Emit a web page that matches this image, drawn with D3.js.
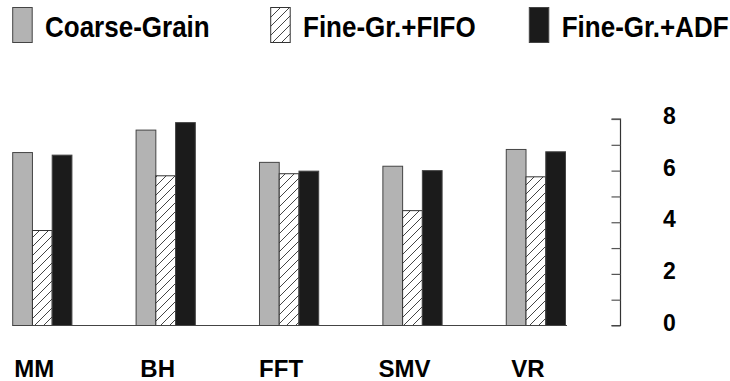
<!DOCTYPE html>
<html>
<head>
<meta charset="utf-8">
<script src="https://cdn.jsdelivr.net/npm/d3@7"></script>
<style>
  html, body { margin: 0; padding: 0; background: #fff; }
  svg { display: block; }
  text { font-family: "Liberation Sans", Arial, Helvetica, sans-serif; font-weight: bold; fill: #000; }
</style>
</head>
<body>
<svg id="chart" width="730" height="381"></svg>
<script>
const categories = ["MM", "BH", "FFT", "SMV", "VR"];
const seriesNames = ["Coarse-Grain", "Fine-Gr.+FIFO", "Fine-Gr.+ADF"];
const coarseGrain = [6.70, 7.57, 6.32, 6.17, 6.82];
const fineFifo    = [3.68, 5.80, 5.88, 4.45, 5.76];
const fineAdf     = [6.60, 7.86, 5.98, 6.00, 6.73];
const yTicks = [0, 2, 4, 6, 8];
const yMinorTicks = [0, 1, 2, 3, 4, 5, 6, 7, 8];

const seriesValues = [coarseGrain, fineFifo, fineAdf];
const fills = ["#b3b3b3", "url(#hatch)", "#1b1b1b"];
const strokes = ["#444", "#333", "#444"];

const svg = d3.select("#chart");

// hatch pattern
const defs = svg.append("defs");
const pat = defs.append("pattern")
  .attr("id", "hatch")
  .attr("patternUnits", "userSpaceOnUse")
  .attr("width", 9).attr("height", 9);
pat.append("rect").attr("width", 9).attr("height", 9).attr("fill", "#fff");
pat.append("path")
  .attr("d", "M-2,2 L2,-2 M0,9 L9,0 M7,11 L11,7")
  .attr("stroke", "#444").attr("stroke-width", 1);

const x = d3.scaleBand().domain(categories).range([12.7, 565.5]).paddingInner(0.52).paddingOuter(0);
const xs = d3.scaleBand().domain(d3.range(seriesNames.length)).range([0, x.bandwidth()]);
const y = d3.scaleLinear().domain([0, 8]).range([325.5, 119]);

// bars
categories.forEach((c, ci) => {
  seriesValues.forEach((vals, si) => {
    svg.append("rect")
      .attr("x", x(c) + xs(si))
      .attr("y", y(vals[ci]))
      .attr("width", xs.bandwidth())
      .attr("height", y(0) - y(vals[ci]))
      .attr("fill", fills[si])
      .attr("stroke", strokes[si])
      .attr("stroke-width", 1);
  });
});

// baseline
svg.append("line")
  .attr("x1", x.range()[0]).attr("x2", x.range()[1] + 1.5)
  .attr("y1", y(0)).attr("y2", y(0))
  .attr("stroke", "#444").attr("stroke-width", 1.2);

// right axis
const axisX = 620.5;
const axisG = svg.append("g").attr("transform", `translate(${axisX},0)`);
axisG.call(d3.axisLeft(y).tickValues(yMinorTicks).tickSize(9).tickFormat(""))
  .call(g => g.select(".domain").attr("stroke", "#333").attr("stroke-width", 1.2).attr("d", `M-9,${y(8)}H0V${y(0)}H-9`))
  .call(g => g.selectAll(".tick line").attr("stroke", "#555").attr("stroke-width", 1.2));

svg.append("g").selectAll("text")
  .data(yTicks).join("text")
  .attr("x", 669.5)
  .attr("y", d => y(d) - 3)
  .attr("text-anchor", "middle")
  .attr("dominant-baseline", "central")
  .attr("font-size", 23)
  .text(d => d);

// category labels
svg.append("g").selectAll("text")
  .data(categories).join("text")
  .attr("x", d => x(d) + x.bandwidth() / 2 - 8)
  .attr("y", 376.5)
  .attr("text-anchor", "middle")
  .attr("font-size", 24)
  .text(d => d);

// legend
const legendX = [12.7, 270.7, 529.3];
const legendTextX = [45, 303, 561.7];
seriesNames.forEach((name, i) => {
  svg.append("rect")
    .attr("x", legendX[i]).attr("y", 7.5)
    .attr("width", 19.5).attr("height", 35)
    .attr("fill", fills[i]).attr("stroke", strokes[i]).attr("stroke-width", 1);
  svg.append("text")
    .attr("transform", `translate(${legendTextX[i]},36.5) scale(1,1.1)`)
    .attr("font-size", 26)
    .text(name);
});
</script>
</body>
</html>
